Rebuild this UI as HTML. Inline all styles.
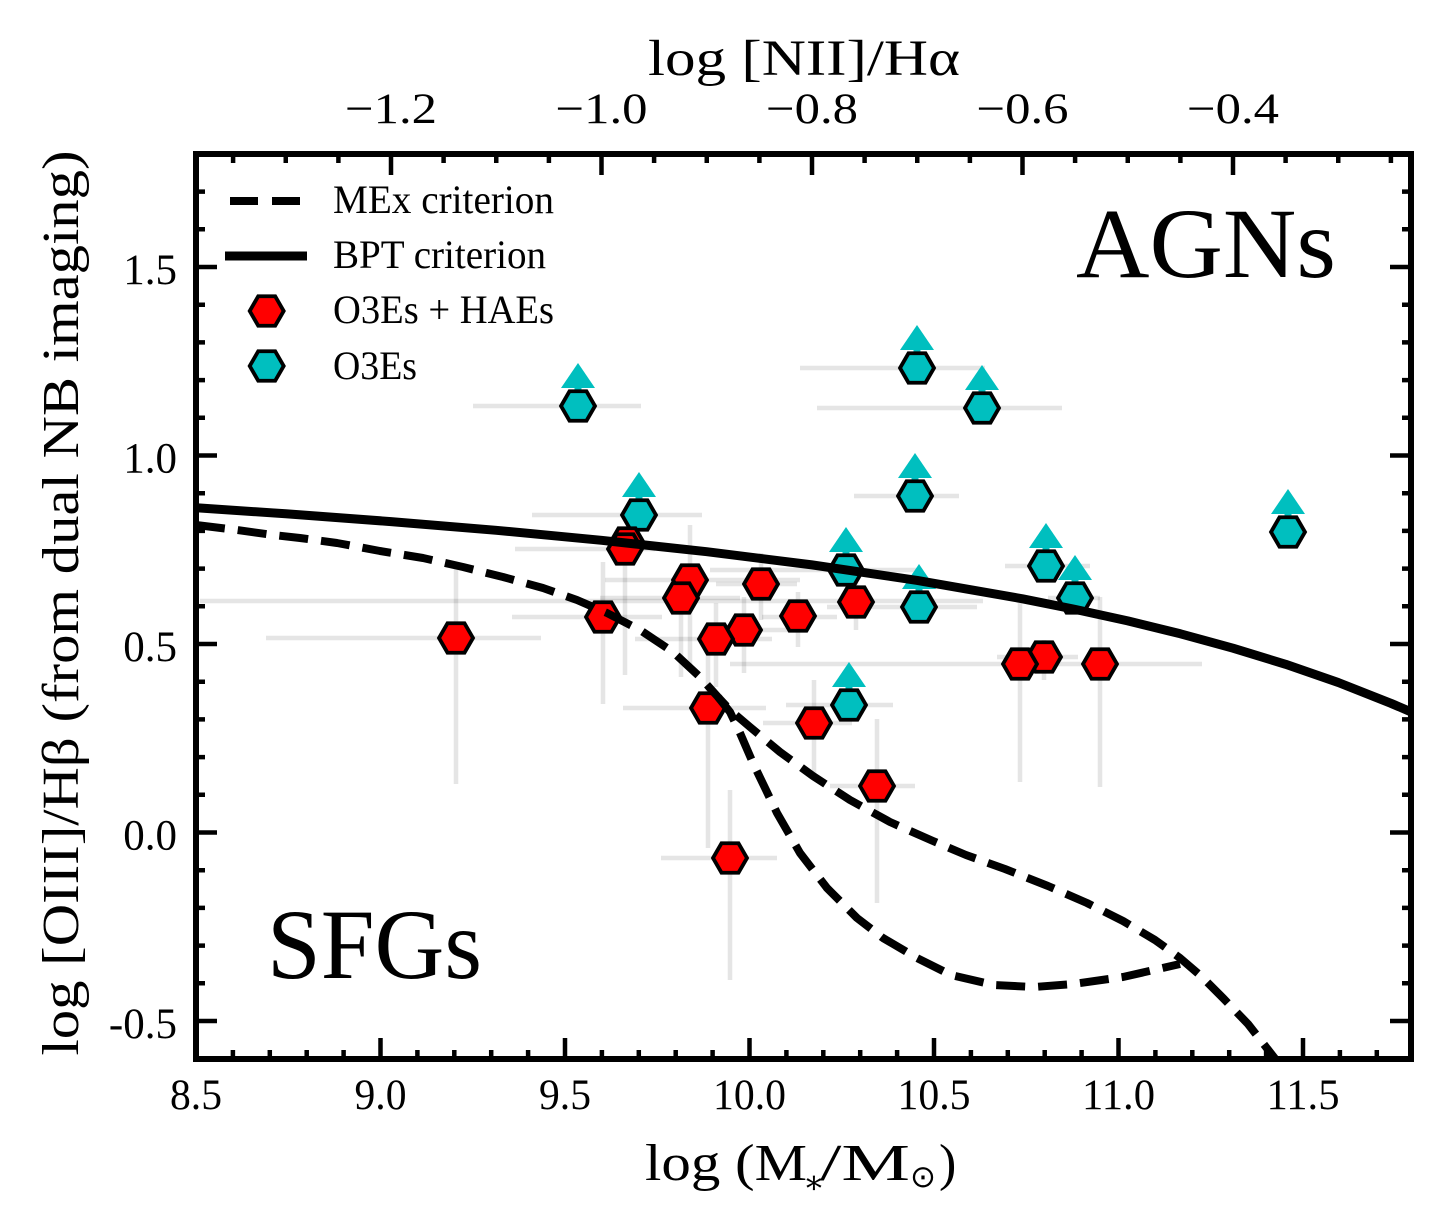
<!DOCTYPE html>
<html><head><meta charset="utf-8"><style>html,body{margin:0;padding:0;background:#fff}svg{display:block}</style></head>
<body>
<svg width="1440" height="1212" viewBox="0 0 1440 1212" xmlns="http://www.w3.org/2000/svg" xmlns:xlink="http://www.w3.org/1999/xlink" font-family="'Liberation Serif', serif">
<defs>
<polygon id="hx" points="17,0 8.5,14.72 -8.5,14.72 -17,0 -8.5,-14.72 8.5,-14.72" stroke="#000" stroke-width="3.8"/>
<g id="ar"><rect x="-3.5" y="-22" width="7" height="22"/><polygon points="-17,-18 17,-18 0,-43"/></g>
<clipPath id="pc"><rect x="196" y="154" width="1215" height="905"/></clipPath>
</defs>
<rect width="1440" height="1212" fill="#fff"/>

<!-- error bars -->
<g stroke="#000" stroke-opacity="0.1" stroke-width="4.5" fill="none">
<path d="M266 638H541"/><path d="M456 562V784"/>
<path d="M512 617H662"/><path d="M603 562V704"/>
<path d="M515 549H655"/><path d="M625 537V675"/>
<path d="M605 580H800"/><path d="M690 525V667"/>
<path d="M600 598H740"/><path d="M681 565V677"/>
<path d="M716 584H797"/><path d="M761 553V620"/>
<path d="M730 630H797"/><path d="M744 597V673"/>
<path d="M635 639H772"/><path d="M716 603V687"/>
<path d="M762 617H837"/><path d="M798 592V647"/>
<path d="M200 601H983"/><path d="M856 575V630"/>
<path d="M623 708H766"/><path d="M708 640V848"/>
<path d="M763 723H852"/><path d="M814 680V780"/>
<path d="M830 786H915"/><path d="M877 719V903"/>
<path d="M661 858H777"/><path d="M730 790V980"/>
<path d="M730 664H1040"/><path d="M1020 603V782"/>
<path d="M997 657H1078"/><path d="M1044 640V680"/>
<path d="M1040 664H1202"/><path d="M1100 597V787"/>
<path d="M473 406H641"/>
<path d="M532 515H702"/>
<path d="M800 368H985"/>
<path d="M817 408H1062"/>
<path d="M854 496H959"/>
<path d="M710 570H920"/>
<path d="M827 607H977"/>
<path d="M786 705H893"/>
<path d="M1005 566H1090"/>
<path d="M1048 598H1100"/>
</g>

<!-- upper-limit arrows -->
<g fill="#00bfbf">
<use xlink:href="#ar" x="578" y="406"/>
<use xlink:href="#ar" x="639" y="515"/>
<use xlink:href="#ar" x="917" y="368"/>
<use xlink:href="#ar" x="982" y="408"/>
<use xlink:href="#ar" x="915" y="496"/>
<use xlink:href="#ar" x="846" y="570"/>
<use xlink:href="#ar" x="919" y="607"/>
<use xlink:href="#ar" x="849" y="705"/>
<use xlink:href="#ar" x="1046" y="566"/>
<use xlink:href="#ar" x="1075" y="598"/>
<use xlink:href="#ar" x="1288" y="532"/>
</g>
<!-- cyan hexes -->
<g fill="#00bfbf">
<use xlink:href="#hx" x="578" y="406"/>
<use xlink:href="#hx" x="639" y="515"/>
<use xlink:href="#hx" x="917" y="368"/>
<use xlink:href="#hx" x="982" y="408"/>
<use xlink:href="#hx" x="915" y="496"/>
<use xlink:href="#hx" x="846" y="570"/>
<use xlink:href="#hx" x="919" y="607"/>
<use xlink:href="#hx" x="849" y="705"/>
<use xlink:href="#hx" x="1046" y="566"/>
<use xlink:href="#hx" x="1075" y="598"/>
<use xlink:href="#hx" x="1288" y="532"/>
</g>
<!-- red hexes -->
<g fill="#ff0000">
<use xlink:href="#hx" x="456" y="638"/>
<use xlink:href="#hx" x="603" y="617"/>
<use xlink:href="#hx" x="627" y="543"/>
<use xlink:href="#hx" x="625" y="549"/>
<use xlink:href="#hx" x="690" y="580"/>
<use xlink:href="#hx" x="681" y="598"/>
<use xlink:href="#hx" x="761" y="584"/>
<use xlink:href="#hx" x="744" y="630"/>
<use xlink:href="#hx" x="716" y="639"/>
<use xlink:href="#hx" x="798" y="616"/>
<use xlink:href="#hx" x="856" y="602"/>
<use xlink:href="#hx" x="708" y="708"/>
<use xlink:href="#hx" x="814" y="723"/>
<use xlink:href="#hx" x="877" y="786"/>
<use xlink:href="#hx" x="730" y="858"/>
<use xlink:href="#hx" x="1044" y="657"/>
<use xlink:href="#hx" x="1020" y="664"/>
<use xlink:href="#hx" x="1100" y="664"/>
</g>

<!-- curves -->
<g clip-path="url(#pc)" fill="none" stroke="#000" stroke-linejoin="round">
<path stroke-width="9" d="M196.3,507.8 L285.75,513.8 L391,521.6 L496.25,530.3 L601.5,540.3 L706.75,551.7 L812,564.9 L917.25,580.4 L1022.5,598.8 L1075.1,609.4 L1127.75,620.9 L1180.4,633.8 L1233,648.2 L1285.6,664.3 L1338.25,682.5 L1390.9,703.3 L1412,712.3"/>
<path stroke-width="8" stroke-dasharray="29 13" d="M196,525 L237,530 L273,535 L300,538 L337,543 L380,551 L423,558 L463,567 L503,577 L543,588 L577,600 L607,613 L640,630 L673,652 L700,677 L718,697 L730,710 L750,727 L780,752 L813,776 L850,800 L890,822 L933,841 L966,855 L1005,869 L1048,886 L1087,903 L1123,921 L1155,940 L1180,958 L1201,976 L1223,998 L1248,1024 L1280,1065"/>
<path stroke-width="8" stroke-dasharray="29 13" d="M718,697 L730,712 L740,733 L753,763 L766,790 L777,813 L800,853 L827,888 L857,918 L883,938 L917,958 L951,975 L994,985 L1034,987 L1073,984 L1123,977 L1180,964"/>
</g>

<!-- spines -->
<rect x="196" y="154" width="1215" height="905" fill="none" stroke="#000" stroke-width="6"/>
<!-- ticks -->
<g stroke="#000" stroke-width="4.5" fill="none">
<path d="M232.9 1059v-9M269.8 1059v-9M306.7 1059v-9M343.6 1059v-9M417.4 1059v-9M454.3 1059v-9M491.2 1059v-9M528.1 1059v-9M601.9 1059v-9M638.8 1059v-9M675.7 1059v-9M712.6 1059v-9M786.4 1059v-9M823.3 1059v-9M860.2 1059v-9M897.1 1059v-9M970.9 1059v-9M1007.8 1059v-9M1044.7 1059v-9M1081.6 1059v-9M1155.4 1059v-9M1192.3 1059v-9M1229.2 1059v-9M1266.1 1059v-9M1339.9 1059v-9M1376.8 1059v-9"/>
<path d="M380.5 1059v-21M565 1059v-21M749.5 1059v-21M934 1059v-21M1118.5 1059v-21M1303 1059v-21"/>
<path d="M233.1 154v9M285.75 154v9M338.4 154v9M443.6 154v9M496.25 154v9M548.9 154v9M654.1 154v9M706.75 154v9M759.4 154v9M864.6 154v9M917.25 154v9M969.9 154v9M1075.1 154v9M1127.75 154v9M1180.4 154v9M1285.6 154v9M1338.25 154v9M1390.9 154v9"/>
<path d="M391 154v21M601.5 154v21M812 154v21M1022.5 154v21M1233 154v21"/>
<path d="M196 191.6h9M196 229.3h9M196 304.7h9M196 342.4h9M196 380.1h9M196 417.8h9M196 493.2h9M196 530.9h9M196 568.6h9M196 606.3h9M196 681.7h9M196 719.4h9M196 757.1h9M196 794.8h9M196 870.2h9M196 907.9h9M196 945.6h9M196 983.3h9"/>
<path d="M196 267h21M196 455.5h21M196 644h21M196 832.5h21M196 1021h21"/>
<path d="M1411 191.6h-9M1411 229.3h-9M1411 304.7h-9M1411 342.4h-9M1411 380.1h-9M1411 417.8h-9M1411 493.2h-9M1411 530.9h-9M1411 568.6h-9M1411 606.3h-9M1411 681.7h-9M1411 719.4h-9M1411 757.1h-9M1411 794.8h-9M1411 870.2h-9M1411 907.9h-9M1411 945.6h-9M1411 983.3h-9"/>
<path d="M1411 267h-21M1411 455.5h-21M1411 644h-21M1411 832.5h-21M1411 1021h-21"/>
</g>

<!-- tick labels -->
<g font-size="43" fill="#000">
<g text-anchor="middle">
<text x="196" y="1109" textLength="52" lengthAdjust="spacingAndGlyphs">8.5</text>
<text x="380.5" y="1109" textLength="52" lengthAdjust="spacingAndGlyphs">9.0</text>
<text x="565" y="1109" textLength="52" lengthAdjust="spacingAndGlyphs">9.5</text>
<text x="749.5" y="1109" textLength="73" lengthAdjust="spacingAndGlyphs">10.0</text>
<text x="934" y="1109" textLength="73" lengthAdjust="spacingAndGlyphs">10.5</text>
<text x="1118.5" y="1109" textLength="73" lengthAdjust="spacingAndGlyphs">11.0</text>
<text x="1303" y="1109" textLength="73" lengthAdjust="spacingAndGlyphs">11.5</text>
<text x="391" y="123" textLength="92" lengthAdjust="spacingAndGlyphs">−1.2</text>
<text x="601.5" y="123" textLength="92" lengthAdjust="spacingAndGlyphs">−1.0</text>
<text x="812" y="123" textLength="92" lengthAdjust="spacingAndGlyphs">−0.8</text>
<text x="1022.5" y="123" textLength="92" lengthAdjust="spacingAndGlyphs">−0.6</text>
<text x="1233" y="123" textLength="92" lengthAdjust="spacingAndGlyphs">−0.4</text>
</g>
<g text-anchor="end">
<text x="177" y="284">1.5</text>
<text x="177" y="472.5">1.0</text>
<text x="177" y="661">0.5</text>
<text x="177" y="849.5">0.0</text>
<text x="177" y="1038">-0.5</text>
</g>
</g>

<!-- axis labels -->
<text transform="translate(78,603) rotate(-90)" text-anchor="middle" font-size="52" textLength="905" lengthAdjust="spacingAndGlyphs">log [OIII]/Hβ (from dual NB imaging)</text>
<text x="648" y="75" font-size="51" textLength="312" lengthAdjust="spacingAndGlyphs">log [NII]/Hα</text>
<g font-size="52">
<text x="645" y="1180" textLength="162" lengthAdjust="spacingAndGlyphs">log (M</text>
<text x="803" y="1193" font-size="32" font-family="'DejaVu Serif', serif">∗</text>
<text x="820" y="1180" textLength="90" lengthAdjust="spacingAndGlyphs">/M</text>
<text x="910" y="1187" font-size="31" font-family="'DejaVu Sans', sans-serif">⊙</text>
<text x="939" y="1180">)</text>
</g>

<!-- region labels -->
<text x="1076" y="277" font-size="100" textLength="260" lengthAdjust="spacingAndGlyphs">AGNs</text>
<text x="267" y="978" font-size="100" textLength="215" lengthAdjust="spacingAndGlyphs">SFGs</text>

<!-- legend -->
<path d="M230 201H300" stroke="#000" stroke-width="8" stroke-dasharray="28 14" fill="none"/>
<path d="M225 256H307" stroke="#000" stroke-width="9" fill="none"/>
<use xlink:href="#hx" x="266.7" y="311" fill="#ff0000"/>
<use xlink:href="#hx" x="266.7" y="366" fill="#00bfbf"/>
<g font-size="40">
<text x="333" y="213" textLength="221" lengthAdjust="spacingAndGlyphs">MEx criterion</text>
<text x="333" y="268" textLength="213" lengthAdjust="spacingAndGlyphs">BPT criterion</text>
<text x="333" y="323" textLength="221" lengthAdjust="spacingAndGlyphs">O3Es + HAEs</text>
<text x="333" y="379" textLength="84" lengthAdjust="spacingAndGlyphs">O3Es</text>
</g>
</svg>
</body></html>
